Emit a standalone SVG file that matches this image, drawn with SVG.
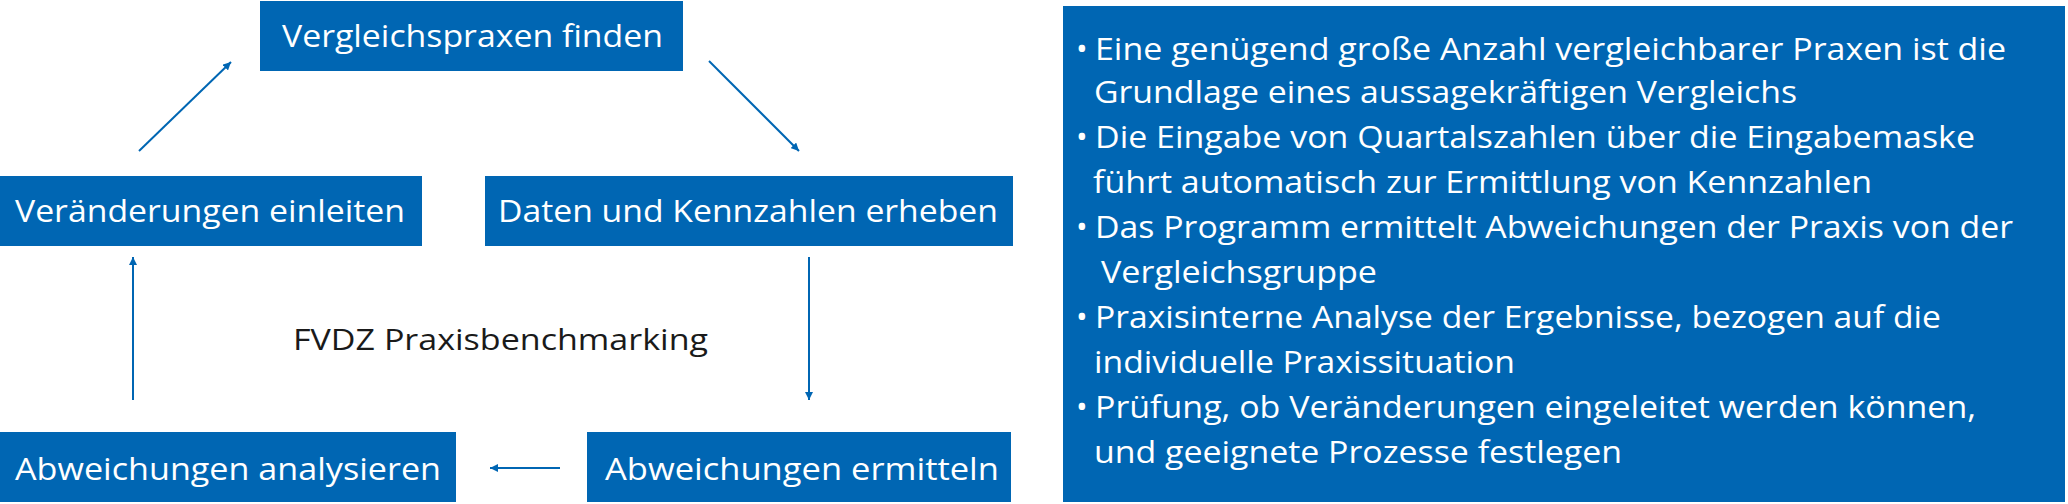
<svg xmlns="http://www.w3.org/2000/svg" width="2068" height="504" viewBox="0 0 2068 504">
<style>
.box{fill:#0066b3}
.bt{font-family:"Open Sans","Liberation Sans",sans-serif;font-size:31px;fill:#fff}
.ct{font-family:"Open Sans","Liberation Sans",sans-serif;font-size:30px;fill:#1a1a1a}
.ln{stroke:#0066b3;stroke-width:2;fill:none;marker-end:url(#ah)}
</style>
<defs>
<marker id="ah" viewBox="0 0 10 10" refX="10" refY="5" markerWidth="8" markerHeight="8" markerUnits="userSpaceOnUse" orient="auto"><path d="M0,0 L10,5 L0,10 z" fill="#0066b3"/></marker>
</defs>
<rect width="2068" height="504" fill="#fff"/>
<g id="n1"><rect class="box" x="260" y="1" width="423" height="70"/><text class="bt" x="282" y="47" textLength="381" lengthAdjust="spacingAndGlyphs">Vergleichspraxen finden</text></g>
<g id="n2"><rect class="box" x="485" y="176" width="528" height="70"/><text class="bt" x="498" y="222" textLength="500" lengthAdjust="spacingAndGlyphs">Daten und Kennzahlen erheben</text></g>
<g id="n3"><rect class="box" x="587" y="432" width="424" height="70"/><text class="bt" x="605" y="480" textLength="394" lengthAdjust="spacingAndGlyphs">Abweichungen ermitteln</text></g>
<g id="n4"><rect class="box" x="0" y="432" width="456" height="70"/><text class="bt" x="15" y="480" textLength="426" lengthAdjust="spacingAndGlyphs">Abweichungen analysieren</text></g>
<g id="n5"><rect class="box" x="0" y="176" width="422" height="70"/><text class="bt" x="15" y="222" textLength="390" lengthAdjust="spacingAndGlyphs">Veränderungen einleiten</text></g>
<text class="ct" x="293" y="350" textLength="415" lengthAdjust="spacingAndGlyphs">FVDZ Praxisbenchmarking</text>
<g id="connectors">
<line class="ln" x1="709" y1="61" x2="799" y2="151" style="stroke-width:2" />
<line class="ln" x1="809" y1="257" x2="809" y2="400"/>
<line class="ln" x1="560" y1="468" x2="490" y2="468"/>
<line class="ln" x1="133" y1="400" x2="133" y2="257"/>
<line class="ln" x1="139" y1="151" x2="231" y2="62"/>
</g>
<g id="info">
<rect class="box" x="1063" y="6" width="1002" height="496"/>
<g class="bt">
<text x="1076" y="60">•</text><text x="1095" y="60" textLength="911" lengthAdjust="spacingAndGlyphs">Eine genügend große Anzahl vergleichbarer Praxen ist die</text>
<text x="1094" y="103" textLength="703" lengthAdjust="spacingAndGlyphs">Grundlage eines aussagekräftigen Vergleichs</text>
<text x="1076" y="148">•</text><text x="1095" y="148" textLength="880" lengthAdjust="spacingAndGlyphs">Die Eingabe von Quartalszahlen über die Eingabemaske</text>
<text x="1093" y="193" textLength="779" lengthAdjust="spacingAndGlyphs">führt automatisch zur Ermittlung von Kennzahlen</text>
<text x="1076" y="238">•</text><text x="1095" y="238" textLength="918" lengthAdjust="spacingAndGlyphs">Das Programm ermittelt Abweichungen der Praxis von der</text>
<text x="1101" y="283" textLength="276" lengthAdjust="spacingAndGlyphs">Vergleichsgruppe</text>
<text x="1076" y="328">•</text><text x="1095" y="328" textLength="846" lengthAdjust="spacingAndGlyphs">Praxisinterne Analyse der Ergebnisse, bezogen auf die</text>
<text x="1094" y="373" textLength="421" lengthAdjust="spacingAndGlyphs">individuelle Praxissituation</text>
<text x="1076" y="418">•</text><text x="1095" y="418" textLength="881" lengthAdjust="spacingAndGlyphs">Prüfung, ob Veränderungen eingeleitet werden können,</text>
<text x="1094" y="463" textLength="528" lengthAdjust="spacingAndGlyphs">und geeignete Prozesse festlegen</text>
</g>
</g>
</svg>
